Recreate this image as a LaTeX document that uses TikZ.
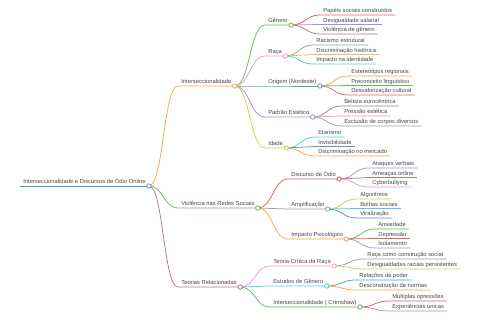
\documentclass[tikz,border=0pt]{standalone}
\usepackage{fontspec}
\setmainfont{Liberation Sans}
\usetikzlibrary{calc}
\definecolor{cblue}{HTML}{1F77B4}
\definecolor{corange}{HTML}{FF7F0E}
\definecolor{cgreen}{HTML}{2CA02C}
\definecolor{cred}{HTML}{D62728}
\definecolor{cpurple}{HTML}{9467BD}
\definecolor{cbrown}{HTML}{8C564B}
\definecolor{cpink}{HTML}{E377C2}
\definecolor{cgray}{HTML}{7F7F7F}
\definecolor{colive}{HTML}{BCBD22}
\definecolor{ccyan}{HTML}{17BECF}
\tikzset{
  topic/.style={anchor=south west,inner xsep=3pt,inner ysep=0.9pt,
    text height=4.3pt,text depth=1.2pt,font=\fontsize{5.8}{6}\selectfont,text=black!72},
  mmlink/.style={to path={let \p1=(\tikztostart), \p2=(\tikztotarget) in
    .. controls ({(\x1+\x2)/2},\y1) and ({(\x1+\x2)/2},\y2) .. (\tikztotarget)}},
}
\begin{document}
\begin{tikzpicture}[x=1pt,y=-1pt,line width=0.75pt]
\useasboundingbox (0,0) rectangle (480,320);
% root
\node[topic] (root) at (20,186) {Interseccionalidade e Discursos de Ódio Online};
% first level
\node[topic] (inter) at (178,86) {Interseccionalidade};
\node[topic] (viol) at (178,208) {Violência nas Redes Sociais};
\node[topic] (teor) at (178,287) {Teorias Relacionadas};
% Interseccionalidade
\node[topic] (gen) at (265,25) {Gênero};
\node[topic] (raca) at (265,56) {Raça};
\node[topic] (orig) at (265,86) {Origem (Nordeste)};
\node[topic] (padr) at (265,117) {Padrão Estético};
\node[topic] (idad) at (265,148) {Idade};
\node[topic] (papeis) at (320,15) {Papéis sociais construídos};
\node[topic] (desig) at (320,24.5) {Desigualdade salarial};
\node[topic] (violg) at (320,34) {Violência de gênero};
\node[topic] (racis) at (313,45) {Racismo estrutural};
\node[topic] (discr) at (313,54.5) {Discriminação histórica};
\node[topic] (ident) at (313,64) {Impacto na identidade};
\node[topic] (ester) at (348,76) {Estereótipos regionais};
\node[topic] (precon) at (348,85.5) {Preconceito linguístico};
\node[topic] (desval) at (348,95) {Desvalorização cultural};
\node[topic] (beleza) at (341,106) {Beleza eurocêntrica};
\node[topic] (press) at (341,116) {Pressão estética};
\node[topic] (exclus) at (341,126) {Exclusão de corpos diversos};
\node[topic] (etar) at (315,137) {Etarismo};
\node[topic] (invis) at (315,146.5) {Invisibilidade};
\node[topic] (merc) at (315,156) {Discriminação no mercado};
% Violencia nas Redes Sociais
\node[topic] (disc) at (288,179) {Discurso de Ódio};
\node[topic] (ampl) at (288,209) {Amplificação};
\node[topic] (impp) at (288,239) {Impacto Psicológico};
\node[topic] (ataq) at (369,168) {Ataques verbais};
\node[topic] (amea) at (369,177.5) {Ameaças online};
\node[topic] (cyber) at (369,187) {Cyberbullying};
\node[topic] (algo) at (357,199) {Algoritmos};
\node[topic] (bolh) at (357,208.5) {Bolhas sociais};
\node[topic] (viral) at (357,218) {Viralização};
\node[topic] (ansi) at (375,229) {Ansiedade};
\node[topic] (depr) at (375,238.5) {Depressão};
\node[topic] (isol) at (375,248) {Isolamento};
% Teorias Relacionadas
\node[topic] (tcr) at (270,266) {Teoria Crítica da Raça};
\node[topic] (estg) at (270,286) {Estudos de Gênero};
\node[topic] (crens) at (270,307) {Interseccionalidade ( Crenshaw)};
\node[topic] (const) at (364,259) {Raça como construção social};
\node[topic] (persis) at (364,269) {Desigualdades raciais persistentes};
\node[topic] (poder) at (356,280) {Relações de poder};
\node[topic] (norm) at (356,290) {Desconstrução de normas};
\node[topic] (mult) at (389,301) {Múltiplas opressões};
\node[topic] (exper) at (389,311) {Experiências únicas};
% links and underlines
\draw[cblue!80] (root.south west) -- (root.south east);
\foreach \a/\b/\k in {root/inter/corange, root/viol/cgreen, root/teor/cbrown,
  inter/gen/cgreen, inter/raca/cpink, inter/orig/cblue, inter/padr/cpurple, inter/idad/colive,
  gen/papeis/cred, gen/desig/cpurple, gen/violg/cbrown,
  raca/racis/cgray, raca/discr/colive, raca/ident/ccyan,
  orig/ester/corange, orig/precon/cgreen, orig/desval/cred,
  padr/beleza/cbrown, padr/press/cpink, padr/exclus/cgray,
  idad/etar/ccyan, idad/invis/cblue, idad/merc/corange,
  viol/disc/cred, viol/ampl/cgray, viol/impp/corange,
  disc/ataq/cpurple, disc/amea/cbrown, disc/cyber/cpink,
  ampl/algo/colive, ampl/bolh/ccyan, ampl/viral/cblue,
  impp/ansi/cgreen, impp/depr/cred, impp/isol/cpurple,
  teor/tcr/cpink, teor/estg/ccyan, teor/crens/cgreen,
  tcr/const/cgray, tcr/persis/colive,
  estg/poder/cblue, estg/norm/corange,
  crens/mult/cred, crens/exper/cpurple}
  \draw[\k!75] (\a.south east) to[mmlink] (\b.south west) -- (\b.south east);
% knots
\foreach \a/\k in {root/cblue, inter/corange, viol/cgreen, teor/cbrown,
  gen/cgreen, raca/cpink, orig/cblue, padr/cpurple, idad/colive,
  disc/cred, ampl/cgray, impp/corange, tcr/cpink, estg/ccyan, crens/cgreen}
  \draw[\k!80,fill=white] (\a.south east) circle (2.2pt);
\end{tikzpicture}
\end{document}
